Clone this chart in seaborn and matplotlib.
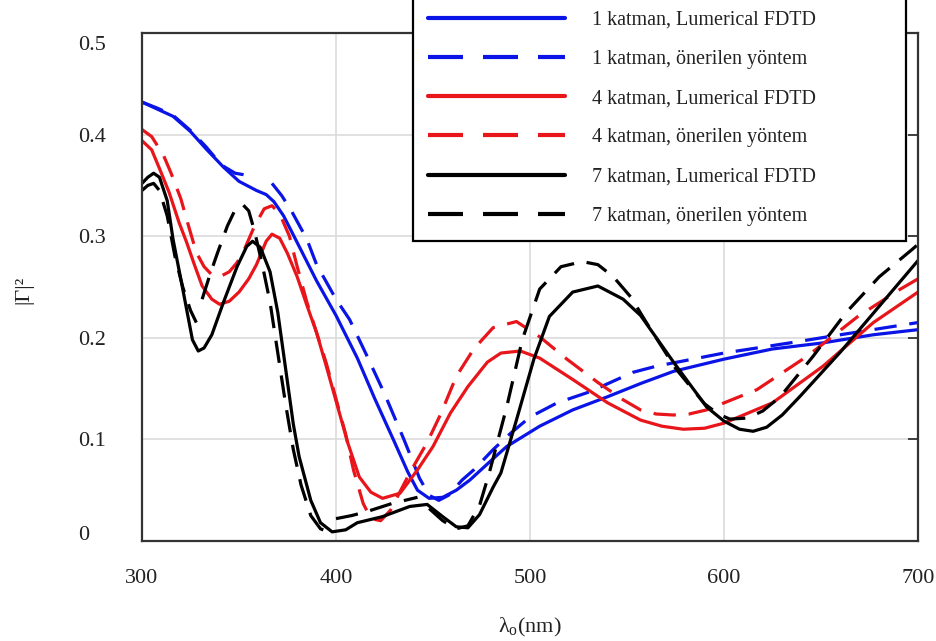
import matplotlib
matplotlib.use("Agg")
import matplotlib.pyplot as plt
import matplotlib.transforms as mtransforms
from matplotlib.lines import Line2D
import pandas as pd
import seaborn as sns

# ---- reflectance |Γ|² versus free-space wavelength (nm) ----
# 1 layer, Lumerical FDTD
wl_1k_fdtd = [300, 308, 316, 325, 333, 342, 350, 359, 364, 368, 373, 381, 390, 400, 411, 420,
              430, 437, 442, 448, 455, 462, 469, 481, 488, 505, 522, 540, 557, 574, 600, 625,
              651, 677, 700]
r_1k_fdtd = [0.432, 0.425, 0.418, 0.403, 0.386, 0.368, 0.354, 0.345, 0.341, 0.334, 0.320, 0.290,
             0.256, 0.222, 0.180, 0.140, 0.098, 0.068, 0.050, 0.042, 0.043, 0.050, 0.060, 0.081,
             0.093, 0.113, 0.129, 0.142, 0.155, 0.167, 0.179, 0.189, 0.195, 0.203, 0.208]

# 1 layer, proposed method (two pieces)
wl_1k_prop_a = [300, 308, 316, 325, 333, 341, 348, 357]
r_1k_prop_a = [0.432, 0.426, 0.419, 0.404, 0.388, 0.370, 0.362, 0.359]
wl_1k_prop_b = [367, 372, 377, 385, 390, 400, 407, 416, 425, 435, 443, 448, 453, 458, 465, 471,
                481, 490, 500, 514, 531, 553, 565, 600, 634, 660, 700]
r_1k_prop_b = [0.352, 0.340, 0.325, 0.297, 0.272, 0.238, 0.218, 0.182, 0.145, 0.100, 0.062,
               0.045, 0.040, 0.045, 0.060, 0.070, 0.090, 0.106, 0.122, 0.136, 0.147, 0.166,
               0.172, 0.185, 0.195, 0.203, 0.215]

# 4 layers, Lumerical FDTD
wl_4k_fdtd = [300, 305, 310, 314, 319, 323, 327, 331, 336, 340, 345, 350, 355, 359, 364, 367,
              371, 375, 380, 385, 390, 395, 400, 406, 412, 418, 424, 433, 442, 450, 459, 468,
              478, 485, 495, 505, 522, 540, 557, 568, 579, 590, 600, 625, 651, 677, 700]
r_4k_fdtd = [0.394, 0.385, 0.362, 0.343, 0.314, 0.294, 0.272, 0.251, 0.238, 0.233, 0.236,
             0.245, 0.258, 0.272, 0.295, 0.302, 0.298, 0.283, 0.260, 0.232, 0.205, 0.172,
             0.138, 0.097, 0.063, 0.048, 0.042, 0.047, 0.070, 0.093, 0.126, 0.152, 0.176,
             0.185, 0.187, 0.180, 0.159, 0.136, 0.119, 0.113, 0.110, 0.111, 0.116, 0.136,
             0.172, 0.215, 0.245]

# 4 layers, proposed method
wl_4k_prop = [300, 305, 311, 315, 320, 324, 328, 332, 336, 340, 345, 349, 353, 358, 363, 367,
              371, 376, 380, 385, 390, 395, 400, 405, 409, 414, 418, 423, 428, 438, 447, 454,
              462, 471, 481, 493, 505, 519, 535, 548, 557, 565, 574, 582, 591, 617, 643, 669,
              691, 700]
r_4k_prop = [0.405, 0.398, 0.380, 0.362, 0.337, 0.310, 0.284, 0.270, 0.262, 0.260, 0.265,
             0.274, 0.288, 0.310, 0.327, 0.330, 0.322, 0.300, 0.270, 0.235, 0.205, 0.175,
             0.140, 0.105, 0.070, 0.037, 0.022, 0.020, 0.030, 0.067, 0.097, 0.125, 0.162,
             0.189, 0.210, 0.216, 0.201, 0.179, 0.156, 0.139, 0.129, 0.125, 0.124, 0.125,
             0.129, 0.149, 0.182, 0.221, 0.248, 0.258]

# 7 layers, Lumerical FDTD
wl_7k_fdtd = [300, 303, 306, 309, 313, 316, 321, 326, 329, 332, 336, 342, 349, 354, 357, 361,
              366, 370, 374, 378, 381, 387, 392, 398, 405, 411, 424, 438, 447, 455, 462, 468,
              474, 481, 485, 493, 502, 510, 522, 535, 548, 557, 574, 591, 600, 608, 615, 622,
              630, 639, 660, 680, 700]
r_7k_fdtd = [0.352, 0.358, 0.362, 0.358, 0.335, 0.297, 0.248, 0.198, 0.187, 0.190, 0.203,
             0.235, 0.270, 0.290, 0.295, 0.289, 0.265, 0.225, 0.170, 0.115, 0.083, 0.040,
             0.018, 0.009, 0.011, 0.018, 0.024, 0.034, 0.036, 0.024, 0.014, 0.013, 0.026,
             0.053, 0.067, 0.119, 0.179, 0.221, 0.245, 0.251, 0.238, 0.222, 0.176, 0.132,
             0.118, 0.110, 0.108, 0.112, 0.124, 0.142, 0.186, 0.231, 0.276]

# 7 layers, proposed method (pieces)
wl_7k_prop_a = [300, 303, 306, 309, 313, 317, 321, 325, 328]
r_7k_prop_a = [0.345, 0.350, 0.352, 0.345, 0.320, 0.280, 0.250, 0.227, 0.215]
wl_7k_prop_b = [331, 335, 339, 344, 348, 352, 355, 358, 362, 366, 370, 374, 378, 382, 387,
                392, 396]
r_7k_prop_b = [0.238, 0.262, 0.284, 0.310, 0.326, 0.331, 0.325, 0.305, 0.272, 0.235, 0.185,
               0.135, 0.090, 0.055, 0.025, 0.012, 0.009]
wl_7k_prop_c = [400, 408, 416, 429, 442]
r_7k_prop_c = [0.022, 0.025, 0.029, 0.037, 0.043]
wl_7k_prop_d = [448, 455, 462, 468, 474, 479, 488, 496, 505, 516, 527, 535, 543, 552, 560,
                575, 590, 597, 603, 612, 620, 629, 646, 663, 680, 697, 700]
r_7k_prop_d = [0.032, 0.020, 0.012, 0.015, 0.035, 0.067, 0.132, 0.198, 0.248, 0.270, 0.275,
               0.272, 0.260, 0.240, 0.215, 0.170, 0.135, 0.125, 0.120, 0.121, 0.128, 0.142,
               0.182, 0.225, 0.260, 0.287, 0.292]

labels = ["1 katman, Lumerical FDTD", "1 katman, önerilen yöntem",
          "4 katman, Lumerical FDTD", "4 katman, önerilen yöntem",
          "7 katman, Lumerical FDTD", "7 katman, önerilen yöntem"]
colors = ["#0a14e6", "#0a14e6", "#e8151b", "#e8151b", "#000000", "#000000"]
solid = [True, False, True, False, True, False]

pieces = [
    [(wl_1k_fdtd, r_1k_fdtd)],
    [(wl_1k_prop_a, r_1k_prop_a), (wl_1k_prop_b, r_1k_prop_b)],
    [(wl_4k_fdtd, r_4k_fdtd)],
    [(wl_4k_prop, r_4k_prop)],
    [(wl_7k_fdtd, r_7k_fdtd)],
    [(wl_7k_prop_a, r_7k_prop_a), (wl_7k_prop_b, r_7k_prop_b),
     (wl_7k_prop_c, r_7k_prop_c), (wl_7k_prop_d, r_7k_prop_d)],
]

rows = []
for lab, segs in zip(labels, pieces):
    for k, (w, r) in enumerate(segs):
        for wi, ri in zip(w, r):
            rows.append({"wl": wi, "R": ri, "series": lab, "seg": k})
df = pd.DataFrame(rows)

sns.set_theme(style="whitegrid")
plt.rcParams["font.family"] = ["Liberation Serif", "DejaVu Serif"]
plt.rcParams["mathtext.fontset"] = "custom"
plt.rcParams["mathtext.rm"] = "Liberation Serif"

fig = plt.figure(figsize=(9.36, 6.41), dpi=100)
ax = fig.add_axes([142 / 936, 1 - 541 / 641, (918 - 142) / 936, (541 - 33) / 641])
ax.set_facecolor("white")

palette = dict(zip(labels, colors))
dash_map = {lab: ("" if s else (7, 4)) for lab, s in zip(labels, solid)}

sns.lineplot(data=df, x="wl", y="R", hue="series", style="series", units="seg",
             estimator=None, sort=False, palette=palette, dashes=dash_map,
             hue_order=labels, linewidth=2.3, legend=False, ax=ax)

ax.set_xlim(300, 700)
ax.set_ylim(0, 0.5)
ax.set_xticks([300, 400, 500, 600, 700])
ax.set_yticks([0, 0.1, 0.2, 0.3, 0.4, 0.5])
ax.set_yticklabels(["0", "0.1", "0.2", "0.3", "0.4", "0.5"])
ax.grid(True, color="#dcdcdc", linewidth=1.2)
for s in ax.spines.values():
    s.set_color("#333333")
    s.set_linewidth(1.6)
ax.tick_params(axis="both", direction="in", length=7, width=1.3, color="#333333",
               labelsize=16, labelcolor="#222222")
ax.tick_params(axis="y", right=True, pad=46)
ax.tick_params(axis="x", pad=20)
for t in ax.get_yticklabels():
    t.set_horizontalalignment("left")

# nudge the end labels of the y axis inward, away from the frame corners
ylabels = ax.get_yticklabels()
ylabels[0].set_transform(ylabels[0].get_transform()
                         + mtransforms.ScaledTranslation(0, 8 / 100, fig.dpi_scale_trans))
ylabels[-1].set_transform(ylabels[-1].get_transform()
                          + mtransforms.ScaledTranslation(0, -10 / 100, fig.dpi_scale_trans))

ax.set_xlabel("λ$_\\mathrm{o}$(nm)", fontsize=16, color="#222222")
ax.set_ylabel("|Γ|²", fontsize=16, color="#222222")
ax.xaxis.set_label_coords(0.50, -0.148)
ax.yaxis.set_label_coords(-0.14, 0.494)

handles = []
for c, s in zip(colors, solid):
    if s:
        handles.append(Line2D([], [], color=c, lw=3))
    else:
        handles.append(Line2D([], [], color=c, lw=3, dashes=(8.4, 4.8)))
leg = ax.legend(handles, labels, loc="lower left",
                bbox_to_anchor=(413 / 936, 1 - 241 / 641, (906 - 413) / 936, 0.5),
                bbox_transform=fig.transFigure, mode="expand", borderaxespad=0,
                fontsize=14.5, handlelength=6.8, handletextpad=1.35, labelspacing=1.0,
                borderpad=0.75, fancybox=False, framealpha=1, edgecolor="black")
leg.get_frame().set_linewidth(1.6)
for t in leg.get_texts():
    t.set_color("#222222")

fig.savefig("out.png", dpi=100, facecolor="white")
